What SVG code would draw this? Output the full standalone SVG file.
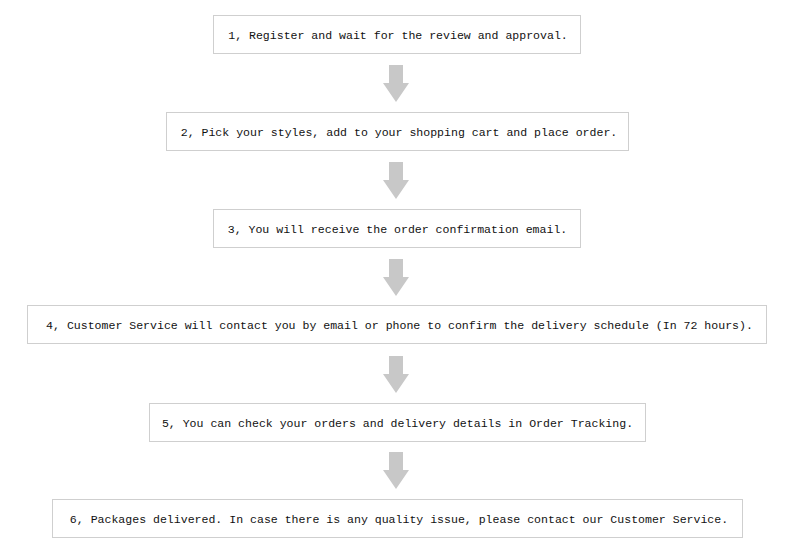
<svg xmlns="http://www.w3.org/2000/svg" width="794" height="553" viewBox="0 0 794 553">
<style>
.box{fill:#fff;stroke:#cfcfcf;stroke-width:1}
.t{font-family:"Liberation Mono","DejaVu Sans Mono",monospace;font-size:11.55px;fill:#111;text-anchor:middle}
.arr{fill:#c8c8c8}
</style>
<defs>
<path id="ar" d="M-7,-18 H7 V0 H13 L0,19 L-13,0 H-7 Z"/>
</defs>
<rect width="794" height="553" fill="#fff"/>
<g id="connectors">
<use href="#ar" class="arr" x="396" y="83"/>
<use href="#ar" class="arr" x="396" y="180"/>
<use href="#ar" class="arr" x="396" y="277"/>
<use href="#ar" class="arr" x="396" y="374"/>
<use href="#ar" class="arr" x="396" y="470"/>
</g>
<g id="n1"><rect class="box" x="213.5" y="15.5" width="367" height="38"/><text class="t" x="398" y="38.5">1, Register and wait for the review and approval.</text></g>
<g id="n2"><rect class="box" x="166.5" y="112.5" width="462" height="38"/><text class="t" x="399" y="135.5">2, Pick your styles, add to your shopping cart and place order.</text></g>
<g id="n3"><rect class="box" x="213.5" y="209.5" width="367" height="38"/><text class="t" x="397.5" y="232.5">3, You will receive the order confirmation email.</text></g>
<g id="n4"><rect class="box" x="27.5" y="305.5" width="739" height="38"/><text class="t" x="399.5" y="328.5">4, Customer Service will contact you by email or phone to confirm the delivery schedule (In 72 hours).</text></g>
<g id="n5"><rect class="box" x="149.5" y="403.5" width="496" height="38"/><text class="t" x="397.5" y="426.5">5, You can check your orders and delivery details in Order Tracking.</text></g>
<g id="n6"><rect class="box" x="52.5" y="499.5" width="690" height="38"/><text class="t" x="399" y="522.5">6, Packages delivered. In case there is any quality issue, please contact our Customer Service.</text></g>
</svg>
